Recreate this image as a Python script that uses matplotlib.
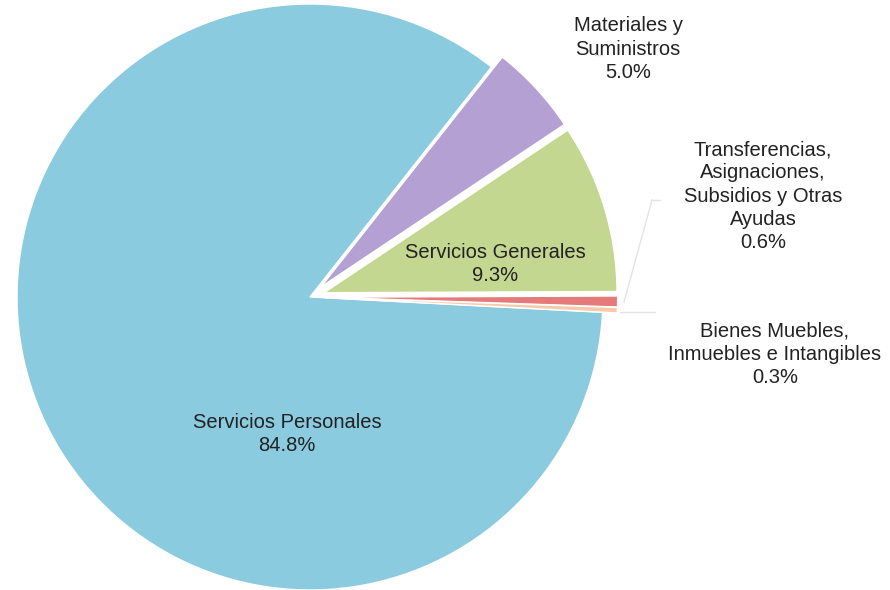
import matplotlib
matplotlib.use("Agg")
import matplotlib.pyplot as plt

categories = ["Servicios Personales", "Materiales y\nSuministros", "Servicios Generales",
              "Transferencias,\nAsignaciones,\nSubsidios y Otras\nAyudas",
              "Bienes Muebles,\nInmuebles e Intangibles"]
values = [84.8, 5.0, 9.3, 0.6, 0.3]
pct_labels = ["84.8%", "5.0%", "9.3%", "0.6%", "0.3%"]
colors = ["#8BCBDF", "#B4A0D2", "#C3D791", "#E57A7A", "#F6C9A8"]
explode = [0.0, 0.05, 0.05, 0.05, 0.05]

plt.rcParams['font.family'] = ['Liberation Sans', 'DejaVu Sans']

W, H = 890, 590
cx, cy, R = 310, 297, 293
fig = plt.figure(figsize=(W / 100, H / 100), dpi=100)
ax = fig.add_axes([0, 0, 1, 1])

ax.pie(values, colors=colors, explode=explode, startangle=-3, counterclock=False,
       radius=1.0, center=(0, 0), frame=True,
       wedgeprops=dict(edgecolor='white', linewidth=1.0))
ax.set_xlim(-cx / R, (W - cx) / R)
ax.set_ylim(-(H - cy) / R, cy / R)
ax.set_aspect('auto')
ax.axis('off')

def P(px, py):
    return ((px - cx) / R, (cy - py) / R)

label_pos = [P(287, 434), P(628, 49), P(495, 264), P(763, 196), P(775, 354)]
for cat, pct, pos in zip(categories, pct_labels, label_pos):
    ax.text(pos[0], pos[1], cat + "\n" + pct, ha='center', va='center',
            fontsize=14.5, color='#222222', linespacing=1.27)

lc = '#e3e3e3'
for (a, b) in [((602, 55), (595, 55)),
               ((660, 200), (652, 200)),
               ((652, 200), (624, 302)),
               ((655, 312), (620, 312))]:
    x0, y0 = P(*a)
    x1, y1 = P(*b)
    ax.plot([x0, x1], [y0, y1], color=lc, lw=1)

fig.savefig("out.png", dpi=100, facecolor='white')
